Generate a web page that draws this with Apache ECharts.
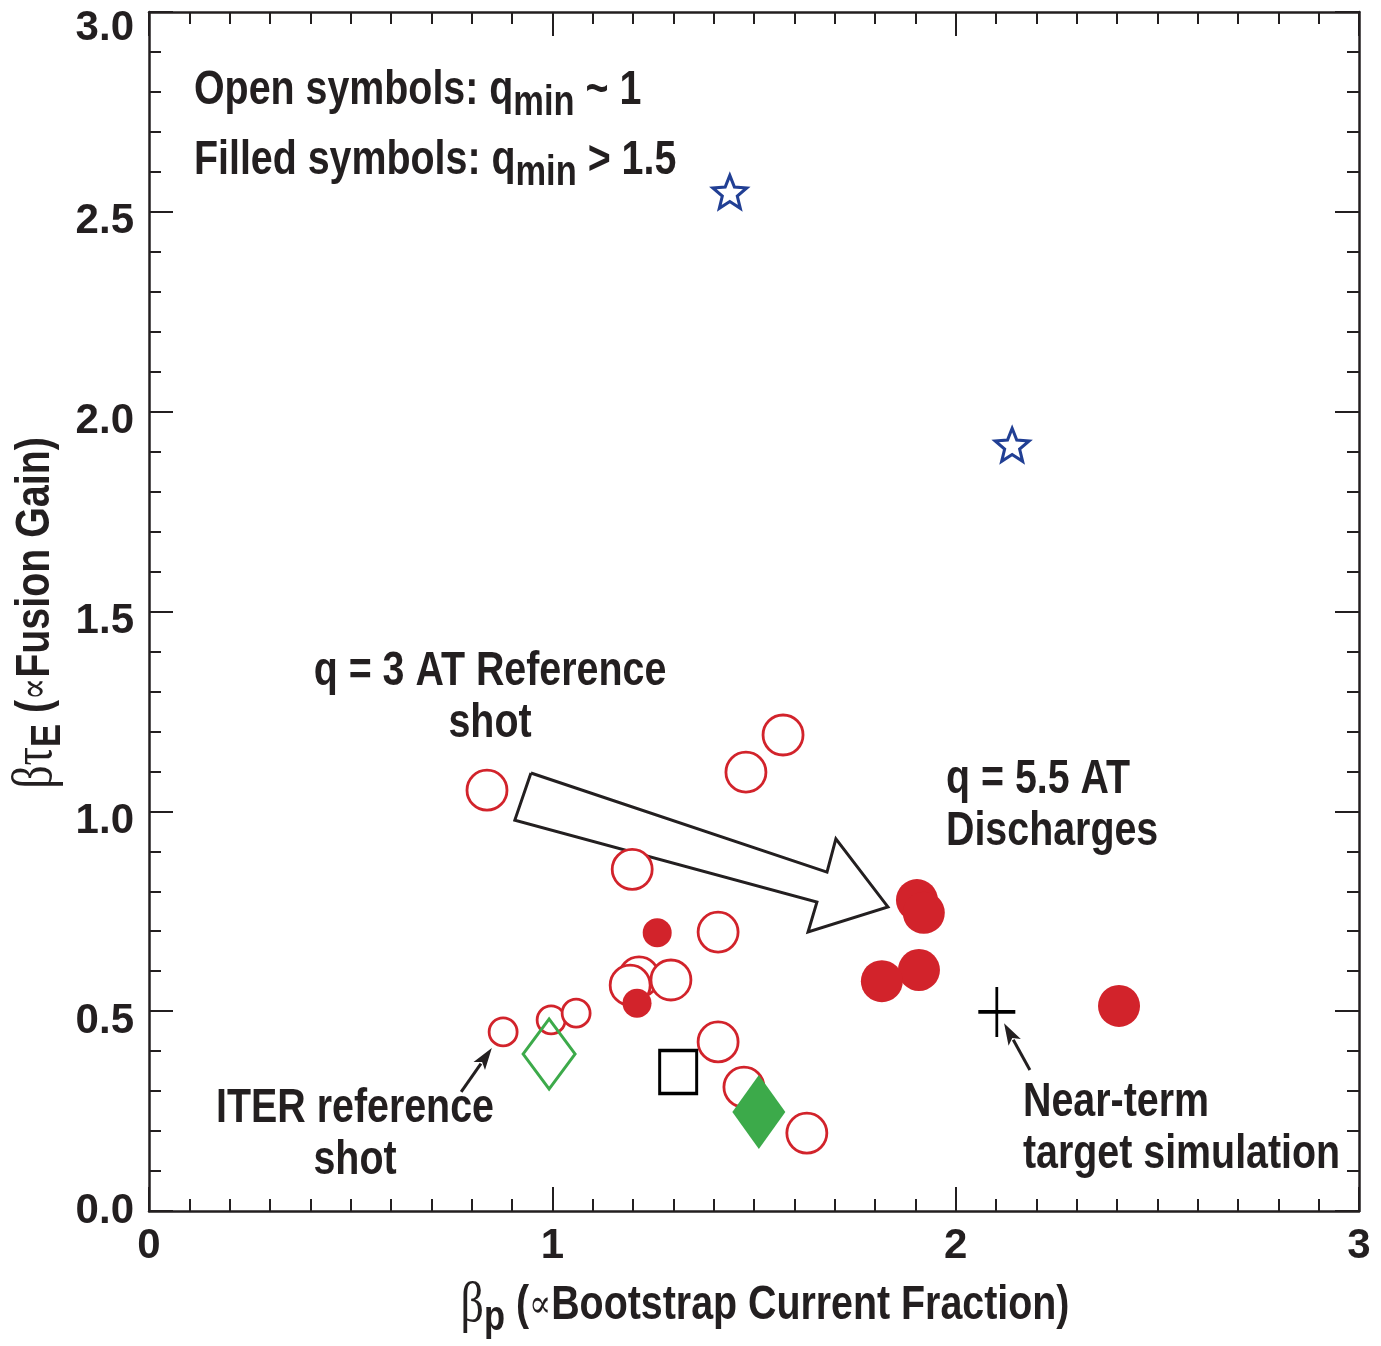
<!DOCTYPE html>
<html>
<head>
<meta charset="utf-8">
<script src="https://cdn.jsdelivr.net/npm/echarts@6/dist/echarts.min.js"></script>
<style>
  html, body { margin: 0; padding: 0; background: #ffffff; }
  #chart { width: 1381px; height: 1346px; }
</style>
</head>
<body>
<div id="chart"></div>
<script>
// ---- data (beta_p, beta*tau_E) ----
// q_min ~ 1 discharges (open circles)
const openCircles = [
  [0.838, 1.053], [1.572, 1.191], [1.480, 1.098], [1.198, 0.855],
  [1.411, 0.698], [1.215, 0.586], [1.193, 0.565], [1.294, 0.578],
  [1.411, 0.423], [1.475, 0.310], [1.631, 0.195]
];
const openCirclesSmall = [[0.878, 0.448], [0.997, 0.478], [1.059, 0.495]];
// q_min > 1.5 discharges (filled circles)
const filledCirclesSmall = [[1.260, 0.696], [1.210, 0.520]];
const filledCircles = [[1.904, 0.778], [1.921, 0.746], [1.909, 0.603], [1.817, 0.575], [2.405, 0.513]];
const stars = [[1.440, 2.550], [2.140, 1.917]];
const openDiamond = [[0.992, 0.393]];
const filledDiamond = [[1.512, 0.248]];
const openSquare = [[1.312, 0.348]];
const targetCross = [[2.102, 0.498]];

// annotation arrows, in data units
const bigArrow = [
  [0.947, 1.096], [1.681, 0.848], [1.703, 0.931], [1.832, 0.761],
  [1.634, 0.698], [1.656, 0.773], [0.907, 0.978]
];
const pointerArrows = [
  [0.774, 0.298, 0.850, 0.408],
  [2.184, 0.353, 2.120, 0.470]
];

const xTickLabels = ['0', '1', '2', '3'];
const yTickLabels = ['0.0', '0.5', '1.0', '1.5', '2.0', '2.5', '3.0'];

// ---- styling ----
const INK = '#231f20';
const RED = '#d2232b';
const GREEN = '#3caa4a';
const BLUE = '#213f94';
const SANS = "'Liberation Sans', Arial, sans-serif";
const SERIF = "'Liberation Serif', 'DejaVu Serif', serif";
const NARROW_X = 0.82;   // horizontal squeeze for a condensed look

function starPath() {
  const pts = [];
  for (let k = 0; k < 10; k++) {
    const r = (k % 2 === 0) ? 50 : 22;
    const a = (-90 + 36 * k) * Math.PI / 180;
    pts.push((50 + r * Math.cos(a)).toFixed(2) + ',' + (50 + r * Math.sin(a)).toFixed(2));
  }
  return 'path://M' + pts.join('L') + 'Z';
}

const richBase = {
  t: { fontFamily: SANS, fontWeight: 'bold', fontSize: 48, color: INK },
  s: { fontFamily: SANS, fontWeight: 'bold', fontSize: 42, color: INK, padding: [24, 0, 0, 0] },
  g: { fontFamily: SERIF, fontWeight: 'normal', fontSize: 56, color: INK },
  p: { fontFamily: SERIF, fontWeight: 'normal', fontSize: 40, color: INK }
};

function axisCommon() {
  return {
    type: 'value', min: 0, max: 3,
    axisLine: { show: true, onZero: false, lineStyle: { color: INK, width: 2.5 } },
    axisTick: { show: true, inside: true, length: 24, lineStyle: { color: INK, width: 2 } },
    splitLine: { show: false },
    minorSplitLine: { show: false }
  };
}

const chart = echarts.init(document.getElementById('chart'), null, { renderer: 'canvas' });

const labelFont = { fontFamily: SANS, fontWeight: 'bold', fontSize: 42, color: INK };
const minorX = { show: true, splitNumber: 10, length: 12, lineStyle: { color: INK, width: 2 } };
const minorY = { show: true, splitNumber: 5, length: 12, lineStyle: { color: INK, width: 2 } };

function label(x, y, text, opts) {
  return Object.assign({
    type: 'text', x: x, y: y, scaleX: NARROW_X, silent: true,
    style: Object.assign({
      text: text, font: 'bold 48px ' + SANS, fill: INK, lineHeight: 52,
      align: 'left', verticalAlign: 'middle'
    }, opts || {})
  });
}

const option = {
  animation: false,
  backgroundColor: '#ffffff',
  grid: { left: 149, right: 22, top: 12, bottom: 135, containLabel: false, outerBoundsMode: 'none' },
  xAxis: [
    Object.assign(axisCommon(), {
      position: 'bottom', interval: 1, minorTick: minorX,
      axisLabel: Object.assign({ margin: 14, formatter: v => xTickLabels[Math.round(v)] }, labelFont)
    }),
    Object.assign(axisCommon(), {
      position: 'top', interval: 1, minorTick: minorX, axisLabel: { show: false }
    })
  ],
  yAxis: [
    Object.assign(axisCommon(), {
      position: 'left', interval: 0.5, minorTick: minorY,
      axisLabel: Object.assign({
        margin: 15,
        formatter: v => {
          const i = Math.round(v * 2);
          const key = i === 0 ? 'z' : (i === 6 ? 'top' : 'n');
          return '{' + key + '|' + yTickLabels[i] + '}';
        },
        rich: {
          z: Object.assign({}, labelFont),
          n: Object.assign({ padding: [20, 0, 0, 0] }, labelFont),
          top: Object.assign({ padding: [32, 0, 0, 0] }, labelFont)
        }
      }, labelFont)
    }),
    Object.assign(axisCommon(), {
      position: 'right', interval: 0.5, minorTick: minorY, axisLabel: { show: false }
    })
  ],
  series: [
    {
      type: 'line', name: 'AT progression', data: bigArrow.concat([bigArrow[0]]),
      symbol: 'none', silent: true, z: 1,
      lineStyle: { color: INK, width: 3, join: 'miter' }
    },
    {
      type: 'custom', name: 'pointers', silent: true, z: 1,
      data: pointerArrows,
      encode: { x: [0, 2], y: [1, 3] },
      renderItem: function (params, api) {
        const a = api.coord([api.value(0), api.value(1)]);
        const b = api.coord([api.value(2), api.value(3)]);
        const dx = b[0] - a[0], dy = b[1] - a[1];
        const L = Math.hypot(dx, dy), ux = dx / L, uy = dy / L;
        const hl = 22, hw = 7;
        const bx = b[0] - ux * hl, by = b[1] - uy * hl;
        return {
          type: 'group',
          children: [
            { type: 'line', shape: { x1: a[0], y1: a[1], x2: bx + ux * 3, y2: by + uy * 3 },
              style: { stroke: INK, lineWidth: 3 } },
            { type: 'polygon',
              shape: { points: [[b[0], b[1]], [bx - uy * hw, by + ux * hw], [bx + ux * 5, by + uy * 5], [bx + uy * hw, by - ux * hw]] },
              style: { fill: INK } }
          ]
        };
      }
    },
    {
      type: 'scatter', name: 'q_min ~ 1', data: openCircles, symbol: 'circle', symbolSize: 40, z: 3,
      itemStyle: { color: '#ffffff', opacity: 1, borderColor: RED, borderWidth: 2.8 }
    },
    {
      type: 'scatter', name: 'q_min ~ 1 (small)', data: openCirclesSmall, symbol: 'circle', symbolSize: 28, z: 3,
      itemStyle: { color: '#ffffff', opacity: 1, borderColor: RED, borderWidth: 2.8 }
    },
    {
      type: 'scatter', name: 'q_min > 1.5 (small)', data: filledCirclesSmall, symbol: 'circle', symbolSize: 29, z: 4,
      itemStyle: { color: RED, opacity: 1 }
    },
    {
      type: 'scatter', name: 'q = 5.5 AT', data: filledCircles, symbol: 'circle', symbolSize: 42, z: 4,
      itemStyle: { color: RED, opacity: 1 }
    },
    {
      type: 'scatter', name: 'stars', data: stars, symbol: starPath(), symbolSize: [34, 33], z: 4,
      itemStyle: { color: '#ffffff', opacity: 1, borderColor: BLUE, borderWidth: 3 }
    },
    {
      type: 'scatter', name: 'ITER open', data: openDiamond, symbol: 'diamond', symbolSize: [52, 70], z: 4,
      itemStyle: { color: 'rgba(255,255,255,0)', opacity: 1, borderColor: GREEN, borderWidth: 3 }
    },
    {
      type: 'scatter', name: 'ITER filled', data: filledDiamond, symbol: 'diamond', symbolSize: [53, 74], z: 5,
      itemStyle: { color: GREEN, opacity: 1 }
    },
    {
      type: 'scatter', name: 'square', data: openSquare, symbol: 'rect', symbolSize: [37, 43], z: 4,
      itemStyle: { color: 'rgba(255,255,255,0)', opacity: 1, borderColor: '#000000', borderWidth: 3.2 }
    },
    {
      type: 'scatter', name: 'target', data: targetCross, symbol: 'path://M18.5,0V50M0,25H37', symbolSize: [37, 50], z: 5,
      itemStyle: { color: 'rgba(0,0,0,0)', opacity: 1, borderColor: '#000000', borderWidth: 3.2 }
    }
  ],
  graphic: [
    label(194, 91, '{t|Open symbols: q}{s|min}{t| ~ 1}', { rich: richBase }),
    label(194, 161, '{t|Filled symbols: q}{s|min}{t| > 1.5}', { rich: richBase }),
    label(490, 698, 'q = 3 AT Reference\nshot', { align: 'center' }),
    label(946, 806, 'q = 5.5 AT\nDischarges'),
    label(355, 1135, 'ITER reference\nshot', { align: 'center' }),
    label(1023, 1129, 'Near-term\ntarget simulation'),
    label(765, 1306, '{g|β}{s|p}{t| (}{p|∝}{t|Bootstrap Current Fraction)}', { rich: richBase, align: 'center' }),
    Object.assign(label(36, 613, '{g|βτ}{s|E}{t| (}{p|∝}{t|Fusion Gain)}', { rich: richBase, align: 'center' }),
      { rotation: Math.PI / 2 })
  ]
};

chart.setOption(option);
</script>
</body>
</html>
